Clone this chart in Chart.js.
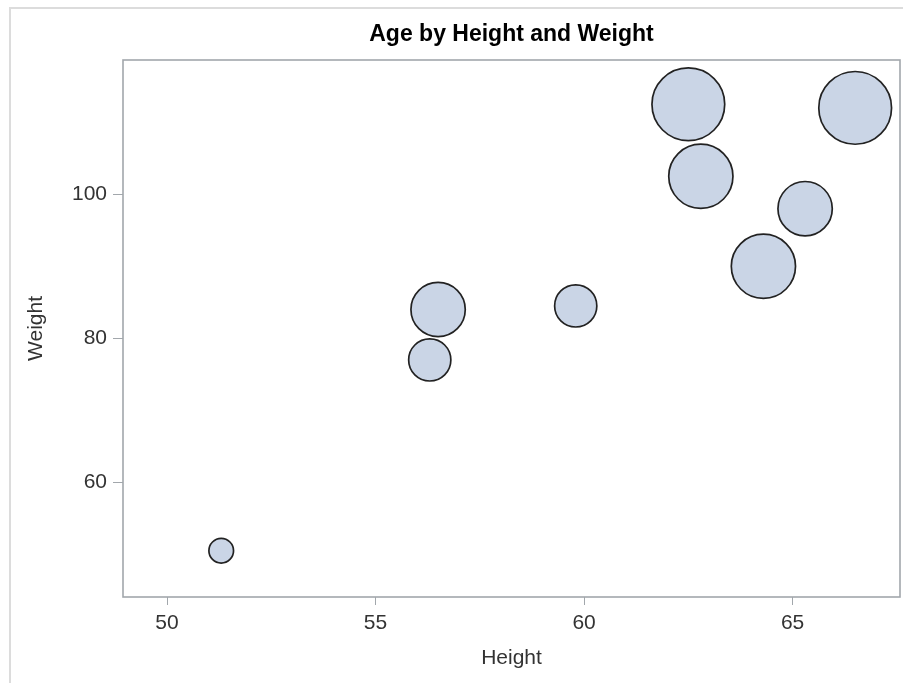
<!DOCTYPE html>
<html>
<head>
<meta charset="utf-8">
<script src="https://cdn.jsdelivr.net/npm/chart.js@4.4.1/dist/chart.umd.min.js"></script>
<style>
  html, body { margin: 0; padding: 0; background: #fff; overflow: hidden; }
  #frame { position: absolute; left: 9px; top: 7px; width: 1000px; height: 1000px;
           border-left: 2px solid #dcdcdc; border-top: 2px solid #dcdcdc; }
  #wrap { position: absolute; left: 0; top: 0; width: 903px; height: 683px; }
</style>
</head>
<body>
<div id="frame"></div>
<div id="wrap"><canvas id="chart"></canvas></div>
<script>
/* ---- data (one bubble per student) ---- */
var heights = [56.5, 65.3, 62.8, 59.8, 62.5, 51.3, 64.3, 56.3, 66.5];
var weights = [84, 98, 102.5, 84.5, 112.5, 50.5, 90, 77, 112];
var ages    = [13, 13, 14, 12, 15, 11, 14, 12, 15];

var xTicks = [50, 55, 60, 65];
var yTicks = [60, 80, 100];
var xRange = [48.945, 67.575];
var yRange = [44.07, 118.65];

var FONT = "'Liberation Sans', Arial, sans-serif";
var AXIS = '#a2a7ac';
var TEXT = '#333333';

// bubble area grows linearly with age
function bubbleRadius(age) {
  return Math.sqrt(738 + 293 * (age - 13));
}

var points = heights.map(function(h, i) {
  return { x: h, y: weights[i], r: bubbleRadius(ages[i]) };
});

/* ---- box round the plot area ---- */
var plotFrame = {
  id: 'plotFrame',
  afterDraw: function(chart) {
    var a = chart.chartArea, ctx = chart.ctx;
    var l = Math.round(a.left), t = Math.round(a.top);
    var r = Math.round(a.right), b = Math.round(a.bottom);
    ctx.save();
    ctx.strokeStyle = AXIS;
    ctx.lineWidth = 1.6;
    ctx.strokeRect(l, t, r - l, b - t);
    ctx.restore();
  }
};

new Chart(document.getElementById('chart'), {
  type: 'bubble',
  data: {
    datasets: [{
      label: 'Age',
      data: points,
      backgroundColor: '#cad5e6',
      borderColor: '#222222',
      borderWidth: 1.7
    }]
  },
  plugins: [plotFrame],
  options: {
    responsive: true,
    maintainAspectRatio: false,
    animation: false,
    layout: { autoPadding: false, padding: { left: 0, right: 3, top: 0, bottom: 0 } },
    plugins: {
      legend: { display: false },
      tooltip: { enabled: false },
      title: {
        display: true,
        text: 'Age by Height and Weight',
        fullSize: false,
        color: '#000',
        font: { family: FONT, size: 23, weight: 'bold' },
        padding: { top: 21.2, bottom: 11.2 }
      }
    },
    scales: {
      x: {
        type: 'linear',
        min: xRange[0],
        max: xRange[1],
        afterBuildTicks: function(scale) {
          scale.ticks = xTicks.map(function(v) { return { value: v }; });
        },
        afterFit: function(scale) { scale.height = 86; },
        ticks: { color: TEXT, padding: 6, font: { family: FONT, size: 21 } },
        grid: { drawOnChartArea: false, drawTicks: true, tickLength: 8, color: AXIS },
        border: { display: false },
        title: {
          display: true, text: 'Height', color: TEXT,
          font: { family: FONT, size: 21 },
          padding: { top: 0, bottom: 12 }
        }
      },
      y: {
        type: 'linear',
        min: yRange[0],
        max: yRange[1],
        afterBuildTicks: function(scale) {
          scale.ticks = yTicks.map(function(v) { return { value: v }; });
        },
        afterFit: function(scale) { scale.width = 123; },
        ticks: { color: TEXT, padding: 6, font: { family: FONT, size: 21 } },
        grid: { drawOnChartArea: false, drawTicks: true, tickLength: 10, color: AXIS },
        border: { display: false },
        title: {
          display: true, text: 'Weight', color: TEXT,
          font: { family: FONT, size: 21 },
          padding: { top: 23.2, bottom: 0 }
        }
      }
    }
  }
});
</script>
</body>
</html>
